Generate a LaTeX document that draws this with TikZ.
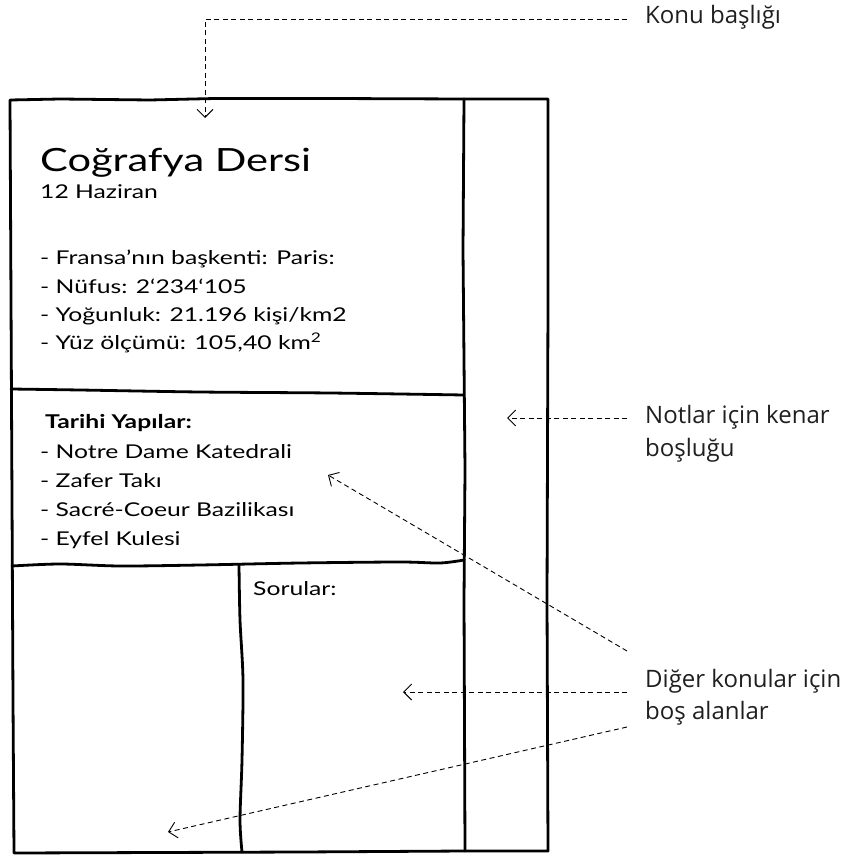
\documentclass[tikz,border=0pt]{standalone}
\usepackage{fontspec}
\usetikzlibrary{arrows.meta,positioning}
\newfontfamily\handfont[FakeStretch=1.3]{Lato}
\newfontfamily\calloutfont{Open Sans}

\begin{document}
\begin{tikzpicture}[x=1pt,y=-1pt,
    pen/.style={line width=2.8pt, line join=round, line cap=round},
    hint/.style={line width=0.9pt, dash pattern=on 5pt off 3.5pt, -{Straight Barb[length=8pt,width=16pt]}},
    hand/.style={font=\handfont\fontsize{19}{23}\selectfont, anchor=base west, inner sep=0pt},
    callout/.style={font=\calloutfont\fontsize{24}{29}\selectfont, anchor=base west, inner sep=0pt, text=black!88}]
    \useasboundingbox (0,0) rectangle (866,858);

    % page, margin and sections
    \draw[pen] (10,100) -- (60,99) -- (150,100) -- (215,98.5) -- (330,98.5) -- (464,99) -- (548,99)
        -- (548,300) -- (547,600) -- (548,851) -- (464,851) -- (300,852) -- (14,853)
        -- (13,700) -- (12,500) -- (11,300) -- cycle;
    \draw[pen] (464,99) -- (463,250) -- (465,470) -- (464,600) -- (465,851);
    \draw[pen] plot[smooth] coordinates {(11,389) (80,390) (200,392) (330,393) (464,395)};
    \draw[pen] plot[smooth] coordinates {(12,566) (60,564) (120,566) (200,565) (300,563) (400,562) (440,563) (464,560)};
    \draw[pen] plot[smooth] coordinates {(239,565) (240,620) (243,680) (242,760) (240,820) (242,852)};

    \node[hand, font=\handfont\fontsize{32}{38}\selectfont] (title) at (40,172) {Coğrafya Dersi};
    \node[hand] (date) at (40,199) {12 Haziran};
    \node[hand] (capital) at (40,265) {- Fransa’nın başkenti: Paris:};
    \node[hand] (people) at (40,293) {- Nüfus: 2‘234‘105};
    \node[hand] (density) at (40,321) {- Yoğunluk: 21.196 kişi/km2};
    \node[hand] (area) at (40,349) {- Yüz ölçümü: 105,40 km\textsuperscript{2}};

    \node[hand, font=\handfont\bfseries\fontsize{19}{23}\selectfont] (sights) at (45,428) {Tarihi Yapılar:};
    \node[hand] (notre) at (40,458) {- Notre Dame Katedrali};
    \node[hand] (arc) at (40,487) {- Zafer Takı};
    \node[hand] (sacre) at (40,516) {- Sacré-Coeur Bazilikası};
    \node[hand] (eiffel) at (40,545) {- Eyfel Kulesi};
    \node[hand] (questions) at (253,595) {Sorular:};

    \node[callout] (topic) at (645,24) {Konu başlığı};
    \node[callout] (margin) at (645,423) {Notlar için kenar};
    \node[callout] (margin2) at (645,456) {boşluğu};
    \node[callout] (other) at (645,687) {Diğer konular için};
    \node[callout] (other2) at (645,719) {boş alanlar};

    \coordinate (topicFrom) at (627,19);
    \coordinate (topicTo) at (205,118);
    \coordinate (marginFrom) at (627,418);
    \coordinate (marginTo) at (507,418);
    \coordinate (otherFromA) at (627,651);
    \coordinate (otherToA) at (328,475);
    \coordinate (otherFromB) at (627,692);
    \coordinate (otherToB) at (403,692);
    \coordinate (otherFromC) at (627,727);
    \coordinate (otherToC) at (168,832);

    \draw[hint] (topicFrom) -| (topicTo);
    \draw[hint] (marginFrom) -- (marginTo);
    \draw[hint] (otherFromA) -- (otherToA);
    \draw[hint] (otherFromB) -- (otherToB);
    \draw[hint] (otherFromC) -- (otherToC);
\end{tikzpicture}
\end{document}
